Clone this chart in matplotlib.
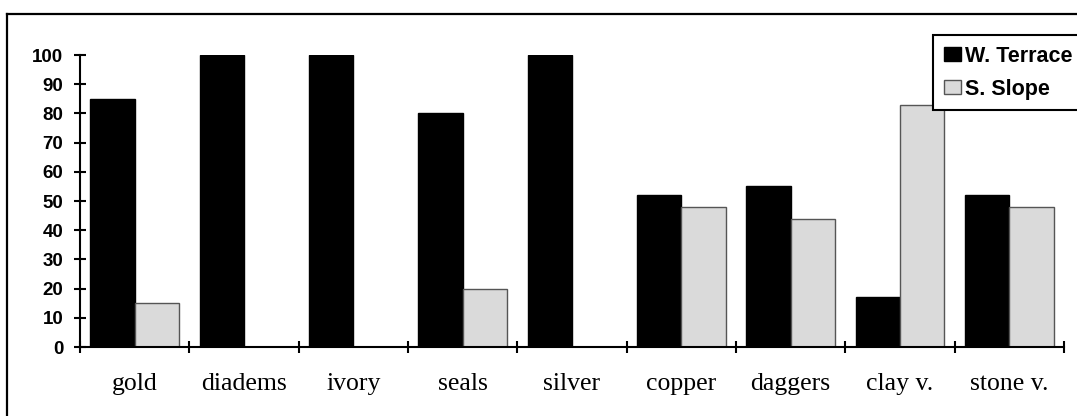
import matplotlib.pyplot as plt
import numpy as np
from matplotlib.lines import Line2D

categories = ['gold', 'diadems', 'ivory', 'seals', 'silver', 'copper', 'daggers', 'clay v.', 'stone v.']
w_terrace = [85, 100, 100, 80, 100, 52, 55, 17, 52]
s_slope = [15, 0, 0, 20, 0, 48, 44, 83, 48]
y_ticks = [0, 10, 20, 30, 40, 50, 60, 70, 80, 90, 100]

W, H = 1077, 416
fig = plt.figure(figsize=(W / 100, H / 100), dpi=100)
ax = fig.add_axes([80 / W, (H - 347) / H, 984 / W, 292 / H])

x = np.arange(len(categories))
bw = 0.407
ax.bar(x - bw / 2, w_terrace, bw, color='black', edgecolor='black', linewidth=1, label='W. Terrace')
ax.bar(x + bw / 2, s_slope, bw, color='#dadada', edgecolor='#555555', linewidth=1, label='S. Slope')

ax.set_xlim(-0.5, len(categories) - 0.5)
ax.set_ylim(0, 100)
ax.set_yticks(y_ticks)
ax.set_xticks(x)
ax.set_xticklabels(categories, fontfamily='Liberation Serif', fontsize=18.5)
ax.set_xticks(np.arange(len(categories) + 1) - 0.5, minor=True)
ax.tick_params(axis='x', which='major', length=0, pad=19)
ax.tick_params(axis='x', which='minor', direction='inout', length=8, width=1.5)
ax.tick_params(axis='y', direction='inout', length=8, width=1.5, pad=8)
for lab in ax.get_yticklabels():
    lab.set_fontfamily('Liberation Sans')
    lab.set_fontweight('bold')
    lab.set_fontsize(13.5)

for s in ['top', 'right']:
    ax.spines[s].set_visible(False)
for s in ['left', 'bottom']:
    ax.spines[s].set_linewidth(1.5)

leg = fig.legend(loc='upper left', bbox_to_anchor=(933 / W, (H - 35) / H),
                 prop={'family': 'Liberation Sans', 'weight': 'bold', 'size': 15.5},
                 frameon=True, fancybox=False, edgecolor='black', framealpha=1,
                 handlelength=0.8, handleheight=0.65, handletextpad=0.2,
                 labelspacing=0.55, borderpad=0.5, borderaxespad=0)
leg.get_frame().set_linewidth(1.5)

# outer frame (right and bottom sides are cut off in the original)
fig.add_artist(Line2D([7 / W, 7 / W], [0, (H - 14) / H], color='black', lw=1.6, transform=fig.transFigure))
fig.add_artist(Line2D([7 / W, 1], [(H - 14) / H, (H - 14) / H], color='black', lw=1.6, transform=fig.transFigure))

fig.savefig('out.png', dpi=100)
